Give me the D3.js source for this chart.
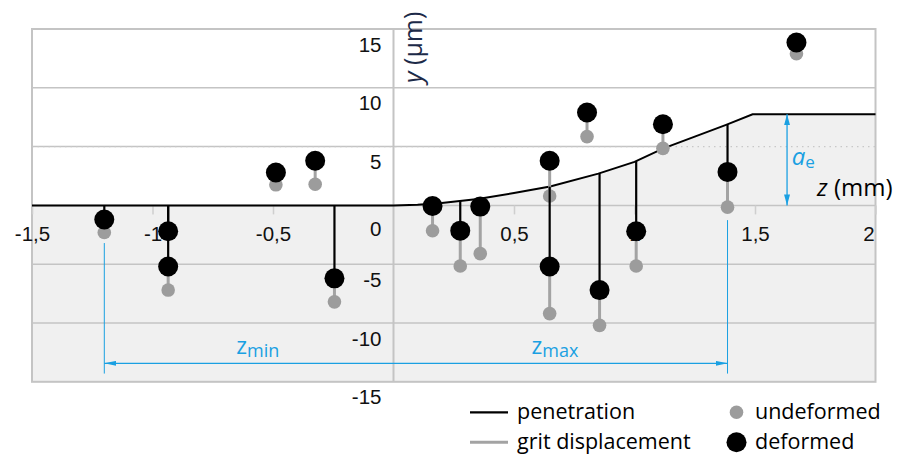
<!DOCTYPE html>
<html>
<head>
<meta charset="utf-8">
<script src="https://cdn.jsdelivr.net/npm/d3@7"></script>
<style>
  html, body { margin: 0; padding: 0; background: #fff; }
  svg { display: block; }
</style>
</head>
<body>
<svg id="chart" width="897" height="456"></svg>
<script>
// Axis ticks and labels
const zTicks = [-1.5, -1, -0.5, 0.5, 1, 1.5, 2];
const zTickLabels = ["-1,5", "-1", "-0,5", "0,5", "1", "1,5", "2"];
const yTicks = [-15, -10, -5, 0, 5, 10, 15];
const yTickLabels = ["-15", "-10", "-5", "0", "5", "10", "15"];
const yGrid = [-10, -5, 0, 5, 10];

// Wheel penetration profile (z in mm, y in µm)
const surfaceZ = [-1.5, 0, 0.1, 0.2, 0.35, 0.5, 0.65, 0.85, 1.0, 1.12, 1.25, 1.38, 1.49, 2.0];
const surfaceY = [0, 0, 0.05, 0.2, 0.55, 1.05, 1.6, 2.7, 3.7, 4.85, 5.85, 6.85, 7.75, 7.75];

// Grits: position and height before / after deformation (µm)
const gritZ          = [-1.20, -0.935, -0.935, -0.488, -0.325, -0.245, 0.162, 0.277, 0.36, 0.648, 0.648, 0.803, 0.855, 1.007, 1.118, 1.386, 1.672];
const gritUndeformed = [-2.3, -2.2, -7.2, 1.75, 1.8, -8.2, -2.15, -5.15, -4.1, 0.8, -9.2, 5.85, -10.2, -5.15, 4.85, -0.15, 12.9];
const gritDeformed   = [-1.2, -2.2, -5.2, 2.8, 3.8, -6.2, -0.05, -2.15, -0.1, 3.8, -5.2, 7.9, -7.2, -2.2, 6.9, 2.85, 13.85];

// Legend entries
const legendLines = ["penetration", "grit displacement"];
const legendDots = ["undeformed", "deformed"];

const BLUE = "#1aa0e2";
const GRID = "#c4c4c4";
const GREY_DOT = "#9c9c9c";
const GREY_LINE = "#a3a3a3";

const svg = d3.select("#chart");
const x = d3.scaleLinear().domain([-1.5, 2]).range([32, 875.5]);
const y = d3.scaleLinear().domain([-15, 15]).range([381.8, 29]);
const surface = d3.scaleLinear().domain(surfaceZ).range(surfaceY);
const surfacePts = surfaceZ.map((z, i) => [z, surfaceY[i]]);

const tickFont = "'Liberation Sans', Arial, sans-serif";
const textFont = "'Open Sans', 'Noto Sans', sans-serif";

// Ground region below the profile
const area = d3.area().x(d => x(d[0])).y0(y(-15)).y1(d => y(d[1]));
svg.append("path").datum(surfacePts).attr("d", area).attr("fill", "#f0f0f0");

// Region above the profile, used to clip the 5 µm grid line
svg.append("clipPath").attr("id", "above")
  .append("path").datum(surfacePts)
  .attr("d", d3.area().x(d => x(d[0])).y0(y(15)).y1(d => y(d[1])));

// Horizontal grid lines
const grid = svg.append("g");
yGrid.forEach(v => {
  const line = grid.append("line")
    .attr("x1", x(-1.5)).attr("x2", x(2))
    .attr("y1", y(v)).attr("y2", y(v))
    .attr("stroke", GRID).attr("stroke-width", 1.5);
  if (v === 5) {
    line.attr("clip-path", "url(#above)");
    grid.append("line")
      .attr("x1", x(-1.5)).attr("x2", x(2))
      .attr("y1", y(v)).attr("y2", y(v))
      .attr("stroke", "#c8c8c8").attr("stroke-width", 1.2)
      .attr("stroke-dasharray", "1.5,4");
  }
});
// Plot frame and vertical axis line
svg.append("rect")
  .attr("x", x(-1.5)).attr("y", y(15))
  .attr("width", x(2) - x(-1.5)).attr("height", y(-15) - y(15))
  .attr("fill", "none").attr("stroke", GRID).attr("stroke-width", 2);
svg.append("line")
  .attr("x1", x(0)).attr("x2", x(0)).attr("y1", y(15)).attr("y2", y(-15))
  .attr("stroke", GRID).attr("stroke-width", 2);

// z axis
const zAxis = svg.append("g")
  .attr("transform", `translate(0,${y(0)})`)
  .call(d3.axisBottom(x).tickValues(zTicks)
    .tickFormat((d, i) => zTickLabels[i]).tickSize(9).tickPadding(12));
zAxis.select(".domain").remove();
zAxis.selectAll(".tick line").attr("stroke", "#cfcfcf").attr("stroke-width", 1.5);
zAxis.selectAll(".tick text")
  .attr("font-family", tickFont).attr("font-size", 20.5).attr("fill", "#111")
  .attr("dx", d => d === 2 ? -7 : 0);

// y axis
const yAxis = svg.append("g")
  .attr("transform", `translate(${x(0)},0)`)
  .call(d3.axisLeft(y).tickValues(yTicks)
    .tickFormat((d, i) => yTickLabels[i]).tickSize(0).tickPadding(12));
yAxis.select(".domain").remove();
yAxis.selectAll(".tick text")
  .attr("font-family", tickFont).attr("font-size", 20.5).attr("fill", "#111")
  .attr("dy", d => d === 0 ? 30 : 22);

// Penetration profile
svg.append("path").datum(surfacePts)
  .attr("d", d3.line().x(d => x(d[0])).y(d => y(d[1])))
  .attr("fill", "none").attr("stroke", "#000").attr("stroke-width", 2);

const grits = gritZ.map((z, i) => ({
  z, u: gritUndeformed[i], d: gritDeformed[i], s: surface(z)
}));

// Grit displacement stems
svg.append("g").selectAll("line").data(grits).join("line")
  .attr("x1", d => x(d.z)).attr("x2", d => x(d.z))
  .attr("y1", d => y(d.d)).attr("y2", d => y(d.u))
  .attr("stroke", GREY_LINE).attr("stroke-width", 3);

// Undeformed grit positions
svg.append("g").selectAll("circle").data(grits).join("circle")
  .attr("cx", d => x(d.z)).attr("cy", d => y(d.u)).attr("r", 6.8)
  .attr("fill", GREY_DOT);

// Penetration stems (only where the grit sits below the profile)
svg.append("g").selectAll("line").data(grits.filter(g => g.d < g.s)).join("line")
  .attr("x1", d => x(d.z)).attr("x2", d => x(d.z))
  .attr("y1", d => y(d.s)).attr("y2", d => y(d.d))
  .attr("stroke", "#000").attr("stroke-width", 2.2);

// Deformed grit positions
svg.append("g").selectAll("circle").data(grits).join("circle")
  .attr("cx", d => x(d.z)).attr("cy", d => y(d.d)).attr("r", 10)
  .attr("fill", "#000");

// Dimension arrows
const defs = svg.append("defs");
function arrowMarker(id, len, half) {
  defs.append("marker").attr("id", id)
    .attr("viewBox", `0 ${-half} ${len} ${2 * half}`)
    .attr("refX", len).attr("refY", 0)
    .attr("markerWidth", len).attr("markerHeight", 2 * half)
    .attr("markerUnits", "userSpaceOnUse")
    .attr("orient", "auto-start-reverse")
    .append("path").attr("d", `M0,${-half}L${len},0L0,${half}Z`).attr("fill", BLUE);
}
arrowMarker("arrowLong", 12, 2.5);
arrowMarker("arrowShort", 11, 3);

const aeZ = 1.633;
svg.append("line")
  .attr("x1", x(aeZ)).attr("x2", x(aeZ))
  .attr("y1", y(surfaceY[surfaceY.length - 1])).attr("y2", y(0))
  .attr("stroke", BLUE).attr("stroke-width", 1.3)
  .attr("marker-start", "url(#arrowShort)").attr("marker-end", "url(#arrowShort)");

const zMinAt = gritZ[0], zMaxAt = gritZ[15];
const dimY = -13.43;
svg.append("line")
  .attr("x1", x(zMinAt)).attr("x2", x(zMaxAt))
  .attr("y1", y(dimY)).attr("y2", y(dimY))
  .attr("stroke", BLUE).attr("stroke-width", 1.2)
  .attr("marker-start", "url(#arrowLong)").attr("marker-end", "url(#arrowLong)");
[[zMinAt, -3.2], [zMaxAt, -1.25]].forEach(([z, top]) => {
  svg.append("line")
    .attr("x1", x(z)).attr("x2", x(z))
    .attr("y1", y(top)).attr("y2", y(-14.3))
    .attr("stroke", BLUE).attr("stroke-width", 1);
});

function subLabel(zc, yv, main, sub, italic, mainSize, subSize) {
  const t = svg.append("text")
    .attr("x", x(zc)).attr("y", y(yv))
    .attr("text-anchor", "middle")
    .attr("font-family", textFont).attr("fill", BLUE);
  t.append("tspan").attr("font-size", mainSize)
    .attr("font-style", italic ? "italic" : "normal").text(main);
  t.append("tspan").attr("font-size", subSize).attr("dy", 3).text(sub);
}
subLabel(-0.563, -12.64, "z", "min", false, 23, 18);
subLabel(0.670, -12.64, "z", "max", false, 23, 18);
subLabel(1.70, 3.45, "a", "e", true, 24, 17);

// Axis titles
const zTitle = svg.append("text")
  .attr("x", 817).attr("y", 196)
  .attr("font-family", textFont).attr("font-size", 24).attr("fill", "#000");
zTitle.append("tspan").attr("font-style", "italic").text("z");
zTitle.append("tspan").text(" (mm)");

const yTitle = svg.append("text")
  .attr("transform", "translate(422,83) rotate(-90)")
  .attr("font-family", textFont).attr("font-size", 25).attr("fill", "#1c2a48");
yTitle.append("tspan").attr("font-style", "italic").text("y");
yTitle.append("tspan").text(" (µm)");

// Legend
const legend = svg.append("g").attr("font-family", textFont).attr("font-size", 21.5).attr("fill", "#000");
legendLines.forEach((name, i) => {
  const ly = 412.3 + i * 30;
  legend.append("line").attr("x1", 470).attr("x2", 508).attr("y1", ly).attr("y2", ly)
    .attr("stroke", i === 0 ? "#000" : GREY_LINE).attr("stroke-width", i === 0 ? 2.2 : 3);
  legend.append("text").attr("x", 517).attr("y", ly + 7).text(name);
});
legendDots.forEach((name, i) => {
  const ly = 412.3 + i * 30;
  legend.append("circle").attr("cx", 736.5).attr("cy", ly).attr("r", i === 0 ? 6.8 : 10)
    .attr("fill", i === 0 ? GREY_DOT : "#000");
  legend.append("text").attr("x", 755).attr("y", ly + 7).text(name);
});
</script>
</body>
</html>
